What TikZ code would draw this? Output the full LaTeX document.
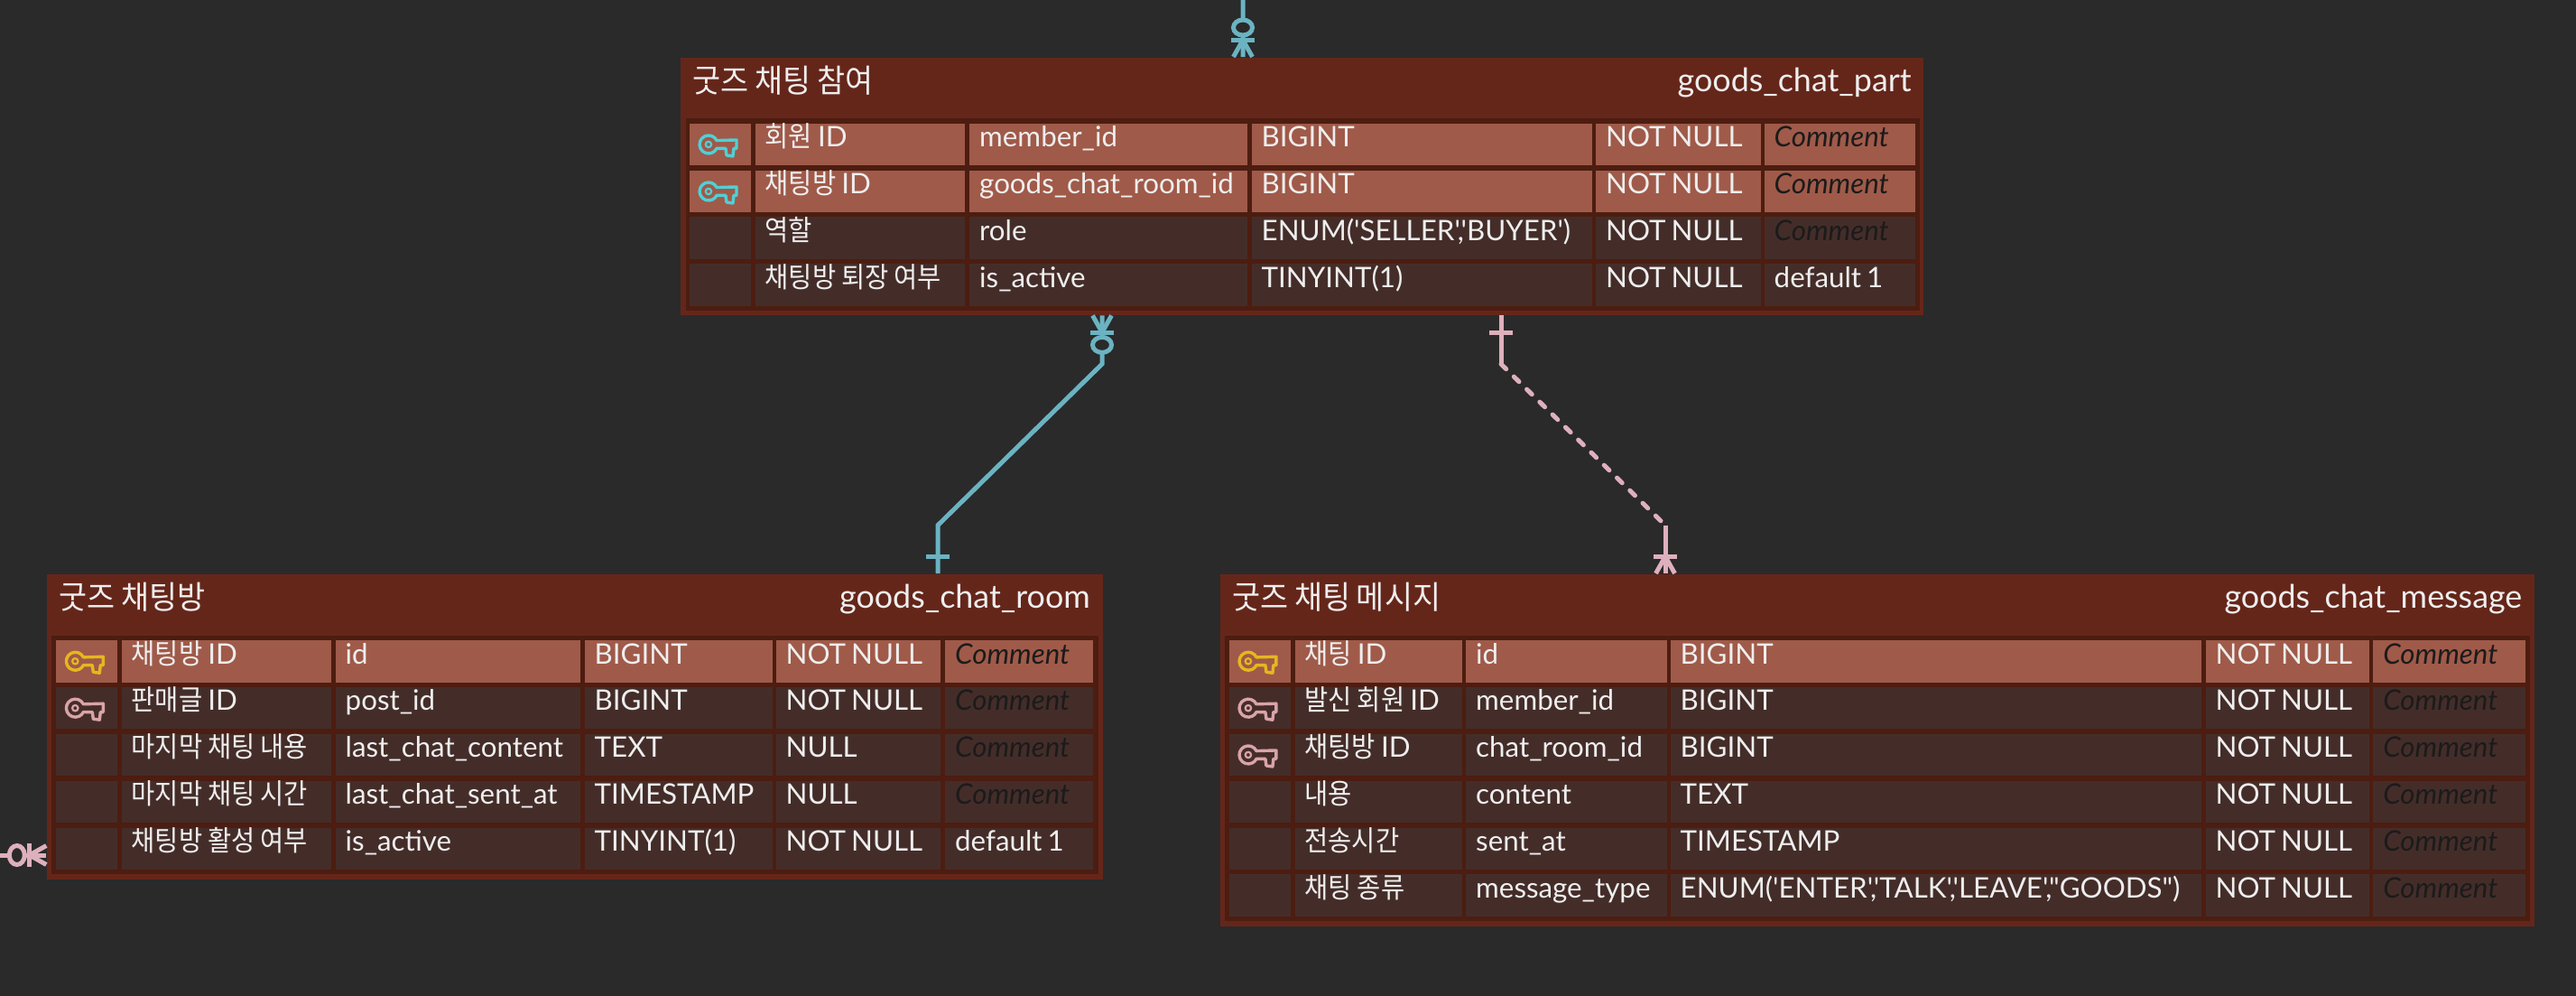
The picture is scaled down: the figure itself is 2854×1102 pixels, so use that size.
\documentclass[tikz,border=0pt]{standalone}
\usepackage{fontspec}
\usepackage{xcolor}
\usetikzlibrary{positioning}
\newfontfamily\latofont{Lato}
\newfontfamily\krfont{Noto Sans CJK KR}[FakeStretch=0.91]
\newfontfamily\krtitlefont{Noto Sans CJK KR}[FakeStretch=0.95,WordSpace=0.9]
\definecolor{bgdark}{HTML}{2A2A2A}
\definecolor{tablehead}{HTML}{65261A}
\definecolor{tableframe}{HTML}{4C1D10}
\definecolor{rowplain}{HTML}{442D29}
\definecolor{rowhigh}{HTML}{A05A49}
\definecolor{cellink}{HTML}{EEEEEE}
\definecolor{commentink}{HTML}{1B1B1B}
\definecolor{relteal}{HTML}{6BB3C2}
\definecolor{relpink}{HTML}{DEB0BD}
\definecolor{keyteal}{HTML}{4FD0D6}
\definecolor{keygold}{HTML}{E6B71E}
\definecolor{keypink}{HTML}{D9A3AC}
\newcommand{\unitpx}{0.01cm}
\newcommand{\kr}[1]{{\krfont #1}}
\newcommand{\nocomment}{{\itshape\color{commentink}Comment}}
% column left edges and widths of the table being drawn
\newcommand{\setcolx}[6]{\def\xA{#1}\def\xB{#2}\def\xC{#3}\def\xD{#4}\def\xE{#5}\def\xF{#6}}
\newcommand{\setcolw}[6]{\def\wA{#1}\def\wB{#2}\def\wC{#3}\def\wD{#4}\def\wE{#5}\def\wF{#6}}
\newcommand{\fieldrow}[8]{%
  \node[cell,#3,text width={(\wA-22)*\unitpx}] (#1-key) at (\xA,#2) {};
  \node[cell,#3,text width={(\wB-22)*\unitpx}] (#1-logical) at (\xB,#2) {#4};
  \node[cell,#3,text width={(\wC-22)*\unitpx}] (#1-physical) at (\xC,#2) {#5};
  \node[cell,#3,text width={(\wD-22)*\unitpx}] (#1-type) at (\xD,#2) {#6};
  \node[cell,#3,text width={(\wE-22)*\unitpx}] (#1-null) at (\xE,#2) {#7};
  \node[cell,#3,text width={(\wF-22)*\unitpx}] (#1-comment) at (\xF,#2) {#8};
}
\tikzset{
  keyicon/.pic={
    \draw[pic actions, line width=3.4*\unitpx, line join=round]
      (-3.9,-4.4) arc[start angle=-26, end angle=-334, radius=10]
      -- (6,4.4) -- (7,12) -- (14,13) -- (15,4.4) -- (18,4.4) -- (18,-5) -- cycle;
    \draw[pic actions, line width=2.2*\unitpx] (-13,0) circle[radius=3.2];
  },
  onemark/.pic={
    \draw[pic actions] (18.7,-13) -- (18.7,13);
  },
  manymark/.pic={
    \draw[pic actions] (18.7,-13) -- (18.7,13);
    \draw[pic actions] (0,-10.5) -- (18.7,0) -- (0,10.5);
  },
  zeromark/.pic={
    \draw[pic actions, fill=bgdark] (32.5,0) ellipse[x radius=8.5, y radius=10.5];
  },
}
\begin{document}
\begin{tikzpicture}[
    x=\unitpx, y=-\unitpx,
    outerbox/.style={anchor=north west, inner sep=0pt, fill=tablehead},
    framebox/.style={anchor=north west, inner sep=0pt, fill=tableframe},
    cell/.style={anchor=north west, inner xsep=11*\unitpx, inner ysep=0pt, text height=26*\unitpx, text depth=20.5*\unitpx, text=cellink, font=\latofont\fontsize{8.9}{10}\selectfont, execute at begin node={\spaceskip 1.7pt\relax}},
    plainrow/.style={fill=rowplain},
    keyrow/.style={fill=rowhigh},
    titlekr/.style={anchor=base west, inner sep=0pt, text=cellink, font=\krtitlefont\fontsize{10.1}{12}\selectfont},
    titleen/.style={anchor=base east, inner sep=0pt, text=cellink, font=\latofont\fontsize{10.2}{12}\selectfont},
    tealline/.style={draw=relteal, line width=5*\unitpx},
    pinkline/.style={draw=relpink, line width=5*\unitpx},
]
    % Canvas
    \useasboundingbox (0,0) rectangle (2854,1102);
    \node[anchor=north west, inner sep=0pt, fill=bgdark, minimum width=2860*\unitpx, minimum height=1108*\unitpx] (canvas) at (-3,-3) {};

    % goods_chat_part
    \node[outerbox, minimum width=1377*\unitpx, minimum height=285*\unitpx] (part) at (753.4,63) {};
    \node[framebox, minimum width=1367*\unitpx, minimum height=213*\unitpx] (partframe) at (758.8,130) {};
    \node[titlekr] (parttitle) at (766.8,102.7) {굿즈 채팅 참여};
    \node[titleen] (partname) at (2118.4,101.7) {goods\_chat\_part};
    \setcolx{763}{836}{1073.5}{1386}{1767.4}{1954}
    \setcolw{68.5}{232.5}{308}{377.5}{182.6}{167}
    \fieldrow{partA}{136}{keyrow}{\kr{회원} ID}{member\_id}{BIGINT}{NOT NULL}{\nocomment}
    \fieldrow{partB}{188}{keyrow}{\kr{채팅방} ID}{goods\_chat\_room\_id}{BIGINT}{NOT NULL}{\nocomment}
    \fieldrow{partC}{239.7}{plainrow}{\kr{역할}}{role}{ENUM('SELLER','BUYER')}{NOT NULL}{\nocomment}
    \fieldrow{partD}{291.5}{plainrow}{\kr{채팅방 퇴장 여부}}{is\_active}{TINYINT(1)}{NOT NULL}{default 1}
    \pic[draw=keyteal] at (partA-key) {keyicon};
    \pic[draw=keyteal] at (partB-key) {keyicon};

    % goods_chat_room
    \node[outerbox, minimum width=1169.7*\unitpx, minimum height=338*\unitpx] (room) at (51.3,635) {};
    \node[framebox, minimum width=1160*\unitpx, minimum height=264*\unitpx] (roomframe) at (56.5,703) {};
    \node[titlekr] (roomtitle) at (64.5,674.5) {굿즈 채팅방};
    \node[titleen] (roomname) at (1208.5,673.5) {goods\_chat\_room};
    \setcolx{61.6}{134}{371}{647}{859}{1046.5}
    \setcolw{68}{232}{271}{208}{182}{164}
    \fieldrow{roomA}{708.3}{keyrow}{\kr{채팅방} ID}{id}{BIGINT}{NOT NULL}{\nocomment}
    \fieldrow{roomB}{760.2}{plainrow}{\kr{판매글} ID}{post\_id}{BIGINT}{NOT NULL}{\nocomment}
    \fieldrow{roomC}{812}{plainrow}{\kr{마지막 채팅 내용}}{last\_chat\_content}{TEXT}{NULL}{\nocomment}
    \fieldrow{roomD}{864}{plainrow}{\kr{마지막 채팅 시간}}{last\_chat\_sent\_at}{TIMESTAMP}{NULL}{\nocomment}
    \fieldrow{roomE}{916}{plainrow}{\kr{채팅방 활성 여부}}{is\_active}{TINYINT(1)}{NOT NULL}{default 1}
    \pic[draw=keygold] at (roomA-key) {keyicon};
    \pic[draw=keypink] at (roomB-key) {keyicon};

    % goods_chat_message
    \node[outerbox, minimum width=1456*\unitpx, minimum height=390*\unitpx] (message) at (1351,635) {};
    \node[framebox, minimum width=1446*\unitpx, minimum height=316*\unitpx] (messageframe) at (1356,703) {};
    \node[titlekr] (messagetitle) at (1364.5,674.5) {굿즈 채팅 메시지};
    \node[titleen] (messagename) at (2795,673.5) {goods\_chat\_message};
    \setcolx{1361.4}{1433.8}{1623.5}{1850}{2443}{2628.6}
    \setcolw{67.6}{185.2}{222.3}{588.5}{181}{168.4}
    \fieldrow{messageA}{708.3}{keyrow}{\kr{채팅} ID}{id}{BIGINT}{NOT NULL}{\nocomment}
    \fieldrow{messageB}{760.2}{plainrow}{\kr{발신 회원} ID}{member\_id}{BIGINT}{NOT NULL}{\nocomment}
    \fieldrow{messageC}{812}{plainrow}{\kr{채팅방} ID}{chat\_room\_id}{BIGINT}{NOT NULL}{\nocomment}
    \fieldrow{messageD}{864}{plainrow}{\kr{내용}}{content}{TEXT}{NOT NULL}{\nocomment}
    \fieldrow{messageE}{916}{plainrow}{\kr{전송시간}}{sent\_at}{TIMESTAMP}{NOT NULL}{\nocomment}
    \fieldrow{messageF}{967.5}{plainrow}{\kr{채팅 종류}}{message\_type}{ENUM('ENTER','TALK','LEAVE',"GOODS")}{NOT NULL}{\nocomment}
    \pic[draw=keygold] at (messageA-key) {keyicon};
    \pic[draw=keypink] at (messageB-key) {keyicon};
    \pic[draw=keypink] at (messageC-key) {keyicon};

    % Free ends at the picture edge
    \coordinate (topend) at (1377,0);
    \coordinate (leftend) at (0,947);

    % Connectors
    \draw[tealline] (topend) -- ([xshift=623.6*\unitpx]part.north west);
    \draw[tealline] ([xshift=467.6*\unitpx]part.south west) -- ++(0,53.7) -- ([xshift=987.7*\unitpx,yshift=53.3*\unitpx]room.north west) -- ([xshift=987.7*\unitpx]room.north west);
    \draw[pinkline] ([xshift=909.6*\unitpx]part.south west) -- ++(0,53.7) coordinate (pinktop);
    \draw[pinkline, line cap=round, dash pattern=on 8*\unitpx off 12*\unitpx] (pinktop) -- ([xshift=494*\unitpx,yshift=53.3*\unitpx]message.north west) coordinate (pinkbottom);
    \draw[pinkline] (pinkbottom) -- ([xshift=494*\unitpx]message.north west);
    \draw[pinkline] (leftend) -- ([yshift=-312*\unitpx]room.north west);

    % Cardinality marks
    \pic[tealline, rotate=90] at ([xshift=623.6*\unitpx]part.north west) {manymark};
    \pic[tealline, rotate=90] at ([xshift=623.6*\unitpx]part.north west) {zeromark};
    \pic[tealline, rotate=-90] at ([xshift=467.6*\unitpx]part.south west) {manymark};
    \pic[tealline, rotate=-90] at ([xshift=467.6*\unitpx]part.south west) {zeromark};
    \pic[tealline, rotate=90] at ([xshift=987.7*\unitpx]room.north west) {onemark};
    \pic[pinkline, rotate=-90] at ([xshift=909.6*\unitpx]part.south west) {onemark};
    \pic[pinkline, rotate=90] at ([xshift=494*\unitpx]message.north west) {manymark};
    \pic[pinkline, rotate=180] at ([yshift=-312*\unitpx]room.north west) {manymark};
    \pic[pinkline, rotate=180] at ([yshift=-312*\unitpx]room.north west) {zeromark};
\end{tikzpicture}
\end{document}
